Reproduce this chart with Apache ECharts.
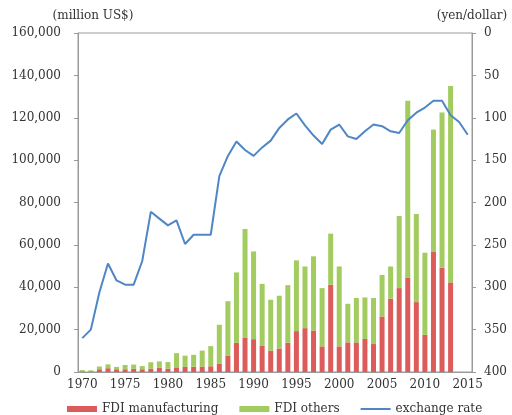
<!DOCTYPE html>
<html>
<head>
<meta charset="utf-8">
<script src="https://cdn.jsdelivr.net/npm/echarts@6/dist/echarts.min.js"></script>
<style>
  html, body { margin: 0; padding: 0; background: #fff; }
  #chart { width: 512px; height: 415px; }
</style>
</head>
<body>
<div id="chart"></div>
<script>
// years on the x axis (bars stop at 2013, line runs to 2015)
const years = []
for (let y = 1970; y <= 2015; y++) years.push(String(y))

// FDI, million US$
const fdiManufacturing = [
  300, 300, 1300, 1800, 1300, 1300, 1500, 1300, 1600, 2000,
  1600, 2200, 2400, 2500, 2600, 2700, 3800, 7800, 13800, 16300,
  15500, 12300, 10100, 11100, 13800, 19300, 20700, 19600, 12100, 41200,
  12100, 14000, 14000, 15600, 13200, 26200, 34600, 39600, 44600, 33000,
  17600, 56900, 49300, 42300, null, null
]
const fdiOthers = [
  600, 500, 1300, 1800, 1100, 2000, 2000, 1500, 3000, 3000,
  3100, 6700, 5300, 5600, 7500, 9500, 18500, 25600, 33200, 51200,
  41400, 29300, 24000, 24900, 27200, 33400, 29100, 35000, 27500, 24100,
  37700, 18200, 20900, 19600, 21700, 19600, 15200, 34000, 83400, 41600,
  38700, 57500, 73200, 92700, null, null
]
// yen per dollar
const exchangeRate = [
  360, 350, 306, 272, 292, 297, 297, 269, 211, 219,
  227, 221, 249, 238, 238, 238, 169, 145, 128, 138,
  145, 135, 127, 112, 102, 95, 109, 121, 131, 114,
  108, 122, 125, 116, 108, 110, 116, 118, 103, 94,
  88, 80, 80, 97, 105, 120
]

const textColor = '#333'
const axisColor = '#9a9a9a'
const font = 'DejaVu Serif'
// thin line icon for the exchange rate legend entry (box kept 30x6)
const lineIcon = 'path://M0,0 M0,2 L30,2 L30,4 L0,4 Z M30,6'

const chart = echarts.init(document.getElementById('chart'))
chart.setOption({
  animation: false,
  textStyle: { fontFamily: font, color: textColor },
  grid: {
    left: 78, right: 40, top: 33, bottom: 43,
    show: true, borderColor: axisColor, borderWidth: 1
  },
  legend: {
    top: 398,
    left: 62,
    itemWidth: 30,
    itemHeight: 6,
    itemGap: 21,
    textStyle: { fontFamily: font, fontSize: 12, color: textColor },
    data: [
      { name: 'FDI manufacturing', icon: 'rect' },
      { name: 'FDI others', icon: 'rect' },
      { name: 'exchange rate', icon: lineIcon }
    ]
  },
  xAxis: {
    type: 'category',
    data: years,
    boundaryGap: true,
    axisLine: { lineStyle: { color: axisColor } },
    axisTick: { show: false },
    axisLabel: { interval: 4, margin: 7, fontSize: 12, color: textColor, fontFamily: font }
  },
  yAxis: [
    {
      type: 'value',
      min: 0, max: 160000, interval: 20000,
      name: '(million US$)',
      nameLocation: 'end',
      nameGap: 11,
      nameTextStyle: { fontSize: 12, color: textColor, fontFamily: font, padding: [0, 0, 0, 30] },
      axisLine: { show: true, lineStyle: { color: axisColor } },
      axisTick: { show: true, length: 4, lineStyle: { color: axisColor } },
      axisLabel: {
        margin: 17, fontSize: 12, color: textColor, fontFamily: font,
        formatter: v => v.toLocaleString('en-US')
      },
      splitLine: { show: false }
    },
    {
      type: 'value',
      min: 0, max: 400, interval: 50,
      inverse: true,
      position: 'right',
      name: '(yen/dollar)',
      nameLocation: 'start',
      nameGap: 11,
      nameTextStyle: { fontSize: 12, color: textColor, fontFamily: font },
      axisLine: { show: true, lineStyle: { color: axisColor } },
      axisTick: { show: true, length: 4, lineStyle: { color: axisColor } },
      axisLabel: { margin: 12, fontSize: 12, color: textColor, fontFamily: font },
      splitLine: { show: false }
    }
  ],
  series: [
    {
      name: 'FDI manufacturing',
      type: 'bar',
      stack: 'fdi',
      barWidth: 5,
      itemStyle: { color: '#dc5c5c' },
      data: fdiManufacturing
    },
    {
      name: 'FDI others',
      type: 'bar',
      stack: 'fdi',
      barWidth: 5,
      itemStyle: { color: '#a2cc5f' },
      data: fdiOthers
    },
    {
      name: 'exchange rate',
      type: 'line',
      yAxisIndex: 1,
      symbol: 'none',
      lineStyle: { color: '#4f86c6', width: 2 },
      itemStyle: { color: '#4f86c6' },
      data: exchangeRate
    }
  ]
})
</script>
</body>
</html>
